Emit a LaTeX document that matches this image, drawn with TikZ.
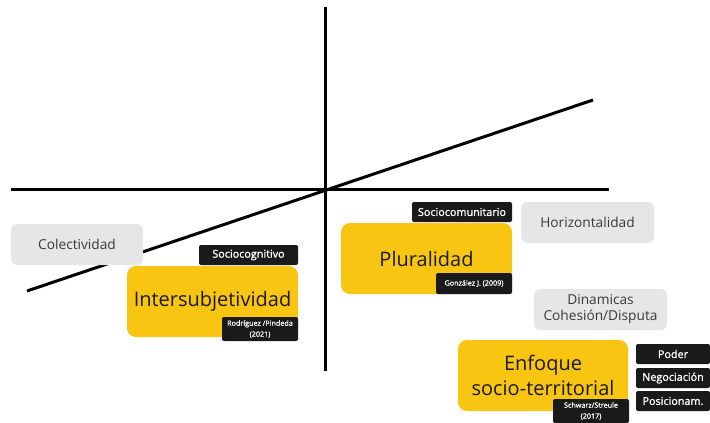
\documentclass[tikz,border=0pt]{standalone}
\usepackage{fontspec}
\setmainfont{Open Sans}
\newfontfamily\semib{Open Sans}[FakeBold=1.3]
\definecolor{yel}{HTML}{F7C512}
\definecolor{gry}{HTML}{E6E6E6}
\definecolor{blk}{HTML}{1A1A1A}
\definecolor{txt}{HTML}{3A3A3A}
\begin{document}
\begin{tikzpicture}[x=1pt,y=-1pt,
  axis/.style={line width=3pt,black},
  graybox/.style={fill=gry,rounded corners=6pt,text=txt,font=\fontsize{13.7}{16}\selectfont,align=center,inner sep=0pt},
  yelbox/.style={fill=yel,rounded corners=9pt,text=blk,font=\fontsize{20}{25}\selectfont,align=center,inner sep=0pt},
  tagbox/.style={fill=blk,rounded corners=2pt,text=white,font=\semib\fontsize{10.8}{12}\selectfont,align=center,inner sep=0pt},
  citebox/.style={fill=blk,rounded corners=2pt,text=white,font=\semib\fontsize{7.2}{11}\selectfont,align=center,inner sep=0pt}]
\useasboundingbox (0,0) rectangle (710,423);
% axes
\coordinate (vt) at (325,7); \coordinate (vb) at (325,371);
\coordinate (hl) at (11,189); \coordinate (hr) at (609,189);
\coordinate (dl) at (27,291); \coordinate (dr) at (593,100);
\draw[axis] (vt) -- (vb);
\draw[axis] (hl) -- (hr);
\draw[axis] (dl) -- (dr);
% gray boxes
\node[graybox,minimum width=132pt,minimum height=41pt] (colect) at (77,244.5) {Colectividad};
\node[graybox,minimum width=133pt,minimum height=41pt] (horiz) at (587.5,222.5) {Horizontalidad};
\node[graybox,minimum width=133pt,minimum height=41pt] (dinam) at (600.5,309.5) {Dinamicas\\Cohesión/Disputa};
% yellow boxes
\node[yelbox,minimum width=171pt,minimum height=71pt] (inter) at (212.5,301.5) {Intersubjetividad};
\node[yelbox,minimum width=171pt,minimum height=71pt] (plural) at (426.5,258.5) {Pluralidad};
\node[yelbox,minimum width=170pt,minimum height=71pt] (enfoque) at (543,375.5) {Enfoque\\socio-territorial};
% tags
\node[tagbox,minimum width=99pt,minimum height=20pt] (sociocog) at (248.5,255) {Sociocognitivo};
\node[tagbox,minimum width=100pt,minimum height=20pt] (sociocom) at (462,212) {Sociocomunitario};
\node[citebox,minimum width=76pt,minimum height=24pt] (rodri) at (260,329) {Rodríguez /Pindeda\\(2021)};
\node[citebox,minimum width=76pt,minimum height=21pt] (gonz) at (474,283.5) {González J. (2009)};
\node[citebox,minimum width=76pt,minimum height=24pt] (schw) at (591,411) {Schwarz/Streule\\(2017)};
\node[tagbox,minimum width=74pt,minimum height=20pt] (poder) at (673,354) {Poder};
\node[tagbox,minimum width=74pt,minimum height=20pt] (nego) at (673,378) {Negociación};
\node[tagbox,minimum width=74pt,minimum height=20pt] (posi) at (673,401) {Posicionam.};
\end{tikzpicture}
\end{document}
